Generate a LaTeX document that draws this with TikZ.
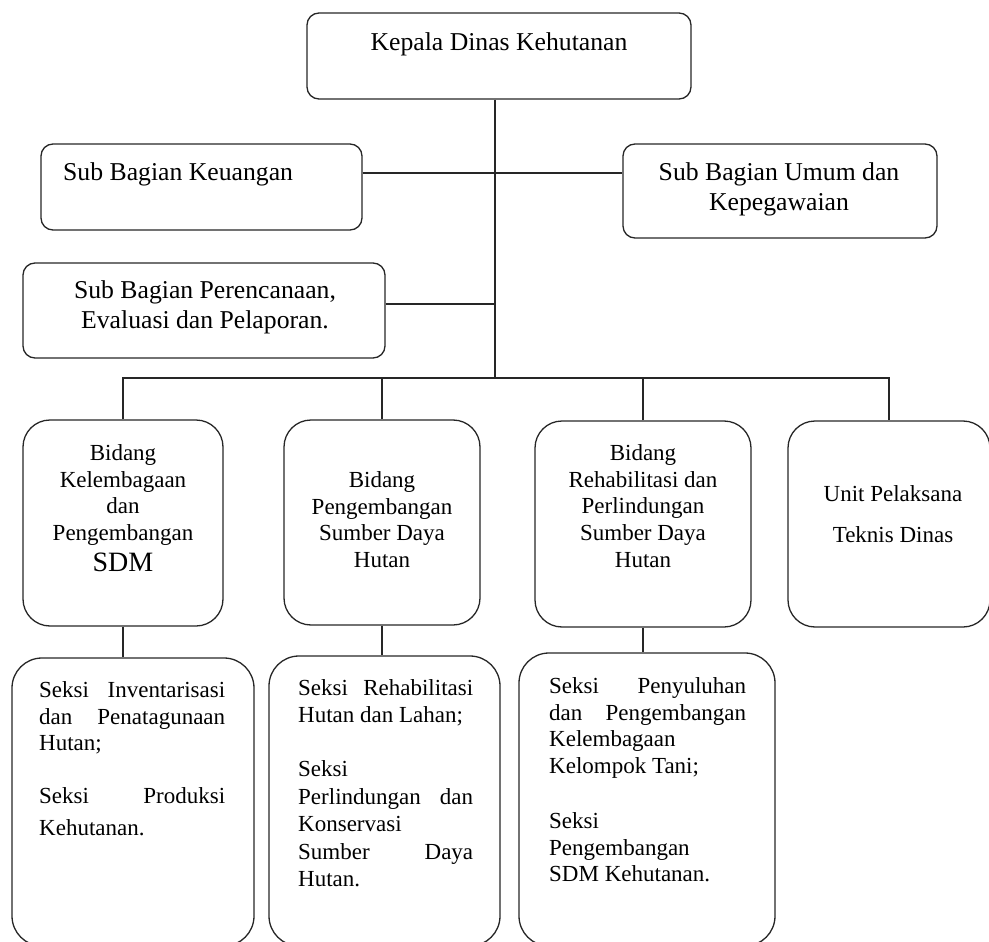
\documentclass[tikz,border=0pt]{standalone}
\usepackage{fontspec}
\setmainfont{Liberation Serif}
\usetikzlibrary{positioning}
\hyphenpenalty=10000
\tolerance=10000
\hbadness=10000
\parskip=0pt

\begin{document}
\begin{tikzpicture}[x=1pt,y=-1pt,
    headbox/.style={draw=black!85,line width=1.3pt,rounded corners=12pt,inner sep=0pt},
    fieldbox/.style={draw=black!85,line width=1.3pt,rounded corners=27pt,inner sep=0pt},
    sectbox/.style={draw=black!85,line width=1.3pt,rounded corners=30pt,inner sep=0pt},
    headtext/.style={inner sep=0pt,align=center,font=\fontsize{25.7}{30}\selectfont},
    fieldtext/.style={inner sep=0pt,anchor=north,align=center,font=\fontsize{23}{26.7}\selectfont},
    secttext/.style={inner sep=0pt,anchor=north west,align=justify,font=\fontsize{23}{26.7}\selectfont},
    link/.style={draw=black!85,line width=1.2pt}
  ]
  \useasboundingbox (0,0) rectangle (989,942);
  \clip (0,0) rectangle (989,942);

  % head and sub bagian
  \node[headbox,minimum width=384pt,minimum height=86pt] (kepala) at (499,56) {};
  \node[headtext,anchor=base] (kepala-t) at (499,51) {Kepala Dinas Kehutanan};
  \node[headbox,minimum width=321pt,minimum height=86pt] (keu) at (201.5,187) {};
  \node[headtext,anchor=base west] (keu-t) at (63,180) {Sub Bagian Keuangan};
  \node[headbox,minimum width=314pt,minimum height=94pt] (umum) at (780,191) {};
  \node[headtext,anchor=north] (umum-t) at (779,162.4) {Sub Bagian Umum dan\\Kepegawaian};
  \node[headbox,minimum width=362pt,minimum height=95pt] (renc) at (204,310.5) {};
  \node[headtext,anchor=north] (renc-t) at (205,280.4) {Sub Bagian Perencanaan,\\Evaluasi dan Pelaporan.};

  % bidang
  \node[fieldbox,minimum width=200pt,minimum height=206pt] (bid1) at (123,523) {};
  \node[fieldtext] (bid1-t) at (123,444.3) {Bidang\\Kelembagaan\\dan\\Pengembangan\\[4pt]{\fontsize{28}{30}\selectfont SDM}};
  \node[fieldbox,minimum width=196pt,minimum height=205pt] (bid2) at (382,522.5) {};
  \node[fieldtext] (bid2-t) at (382,471.3) {Bidang\\Pengembangan\\Sumber Daya\\Hutan};
  \node[fieldbox,minimum width=216pt,minimum height=206pt] (bid3) at (643,524) {};
  \node[fieldtext] (bid3-t) at (643,444.3) {Bidang\\Rehabilitasi dan\\Perlindungan\\Sumber Daya\\Hutan};
  \node[fieldbox,minimum width=202pt,minimum height=206pt] (bid4) at (889,524) {};
  \node[fieldtext] (bid4-t) at (893,485.3) {Unit Pelaksana\\[14pt]Teknis Dinas};

  % seksi
  \node[sectbox,minimum width=242pt,minimum height=288pt] (sek1) at (133,802) {};
  \node[secttext,text width=186pt] (sek1-t) at (39,681.3) {Seksi Inventarisasi\linebreak dan Penatagunaan\linebreak Hutan;\par\vspace{26.3pt}Seksi Produksi\vspace{5pt}\linebreak Kehutanan.};
  \node[sectbox,minimum width=231pt,minimum height=290pt] (sek2) at (384.5,801) {};
  \node[secttext,text width=175pt,font=\fontsize{23}{27.5}\selectfont] (sek2-t) at (298,679.3) {Seksi Rehabilitasi\linebreak Hutan dan Lahan;\par\vspace{26.3pt}Seksi\newline Perlindungan dan\linebreak Konservasi\newline Sumber Daya\linebreak Hutan.};
  \node[sectbox,minimum width=256pt,minimum height=293pt] (sek3) at (647,799.5) {};
  \node[secttext,text width=197pt] (sek3-t) at (549,677.3) {Seksi Penyuluhan\linebreak dan Pengembangan\linebreak Kelembagaan\newline Kelompok Tani;\par\vspace{28.3pt}Seksi\newline Pengembangan\newline SDM Kehutanan.};

  % connectors
  \coordinate (jk) at (495,173);
  \coordinate (jr) at (495,304);
  \coordinate (bus) at (495,378);
  \draw[link] (kepala.south -| bus) -- (bus);
  \draw[link] (keu.east |- jk) -- (umum.west |- jk);
  \draw[link] (renc.east |- jr) -- (jr);
  \draw[link] (bid1.north) |- (bus) -| (bid4.north);
  \draw[link] (bid2.north) -- (bid2.north |- bus);
  \draw[link] (bid3.north) -- (bid3.north |- bus);
  \draw[link] (bid1.south) -- (bid1.south |- sek1.north);
  \draw[link] (bid2.south) -- (bid2.south |- sek2.north);
  \draw[link] (bid3.south) -- (bid3.south |- sek3.north);
\end{tikzpicture}
\end{document}
